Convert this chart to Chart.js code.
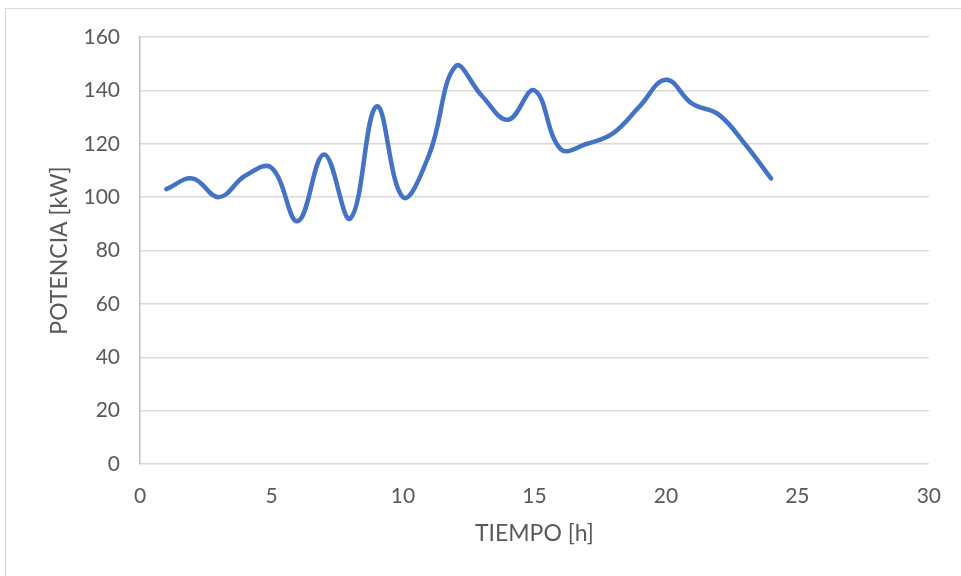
<!DOCTYPE html>
<html>
<head>
<meta charset="utf-8">
<script src="https://cdn.jsdelivr.net/npm/chart.js@4.4.1/dist/chart.umd.min.js"></script>
<style>
  html, body { margin: 0; padding: 0; background: #fff; }
  #wrap { position: relative; width: 961px; height: 576px; }
  #frame { position: absolute; left: 5px; top: 8px; right: 0; bottom: 0; border-left: 1px solid #d9d9d9; border-top: 1px solid #d9d9d9; }
  canvas { position: absolute; left: 0; top: 0; }
</style>
</head>
<body>
<div id="wrap">
  <div id="frame"></div>
  <canvas id="chart" width="961" height="576"></canvas>
</div>
<script>
// hours and power readings (kW)
const hours = [1, 2, 3, 4, 5, 6, 7, 8, 9, 10, 11, 12, 13, 14, 15, 16, 17, 18, 19, 20, 21, 22, 23, 24];
const power = [103, 107, 100, 108, 111, 91, 116, 92, 134, 100, 116, 149, 138, 129, 140, 118, 120, 124, 134, 144, 135, 131, 120, 107];

const xTitle = 'TIEMPO [h]';
const yTitle = 'POTENCIA [kW]';

const textColor = '#595959';
const tickFont = { family: 'Lato, "Open Sans", sans-serif', size: 21 };
const titleFont = { family: 'Lato, "Open Sans", sans-serif', size: 23 };

new Chart(document.getElementById('chart').getContext('2d'), {
  type: 'line',
  data: {
    datasets: [{
      data: hours.map((h, i) => ({ x: h, y: power[i] })),
      borderColor: '#4472C4',
      borderWidth: 4.5,
      borderCapStyle: 'round',
      pointRadius: 0,
      tension: 0.4,
      fill: false
    }]
  },
  options: {
    responsive: false,
    animation: false,
    layout: { padding: { top: 37, right: 32, left: 0, bottom: 0 } },
    plugins: { legend: { display: false }, tooltip: { enabled: false } },
    scales: {
      x: {
        type: 'linear',
        min: 0, max: 30,
        ticks: { stepSize: 5, color: textColor, font: tickFont, padding: 20, maxRotation: 0 },
        grid: { display: false, drawTicks: false },
        border: { display: false },
        title: { display: true, text: xTitle, color: textColor, font: titleFont, padding: { top: 0, bottom: 29 } },
        afterFit: (s) => { s.height = 112; }
      },
      y: {
        min: 0, max: 160,
        ticks: { stepSize: 20, color: textColor, font: tickFont, padding: 20 },
        grid: { color: '#d9d9d9', lineWidth: 1.5, drawTicks: false },
        border: { display: true, color: '#bfbfbf', width: 1.5 },
        title: { display: true, text: yTitle, color: textColor, font: titleFont, padding: { top: 46, bottom: 0 } },
        afterFit: (s) => { s.width = 140; }
      }
    }
  }
});
</script>
</body>
</html>
